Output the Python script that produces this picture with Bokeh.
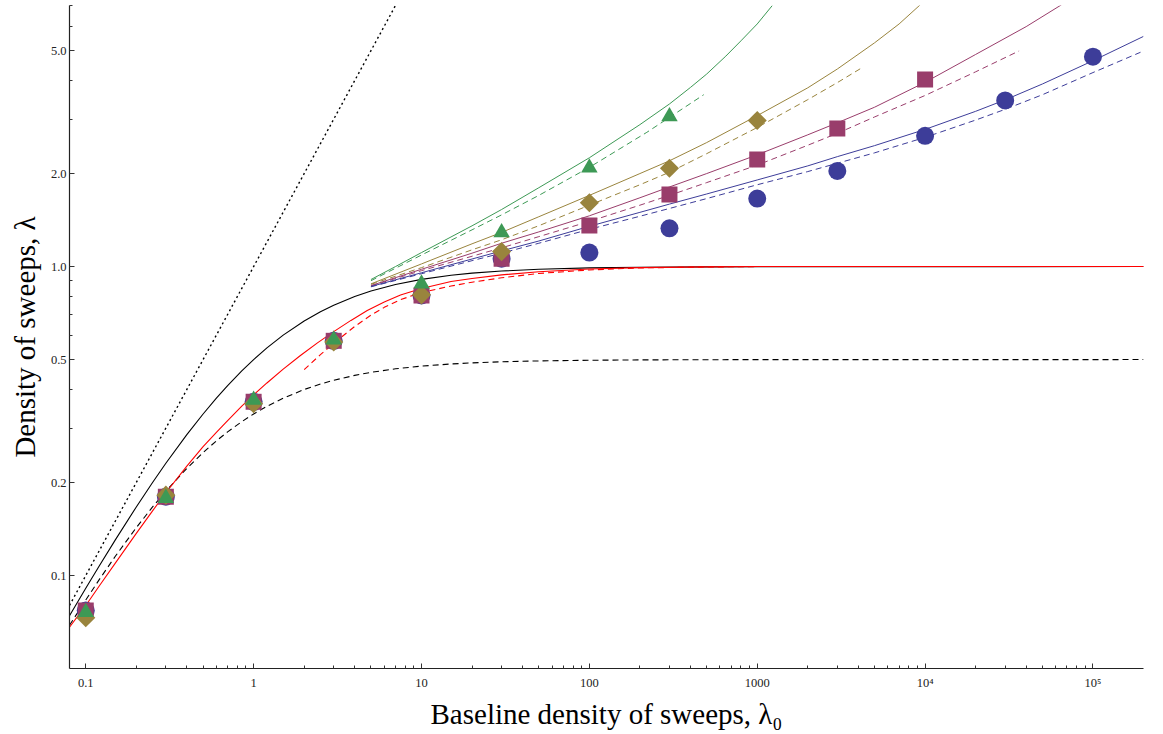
from bokeh.plotting import figure
from bokeh.models import FixedTicker, Range1d, PrintfTickFormatter
from bokeh.embed import file_html
from bokeh.resources import INLINE

# ---------------- data ----------------
# markers
x_circ = [0.1, 0.3, 1, 3, 10, 30, 100, 300, 1000, 3000, 1e4, 3e4, 1e5]
y_circ = [0.077, 0.18, 0.365, 0.575, 0.806, 1.06, 1.11, 1.33, 1.66, 2.04, 2.65, 3.45, 4.78]

x_sq = [0.1, 0.3, 1, 3, 10, 30, 100, 300, 1000, 3000, 1e4]
y_sq = [0.077, 0.18, 0.365, 0.575, 0.806, 1.06, 1.357, 1.71, 2.22, 2.80, 4.03]

x_dia = [0.1, 0.3, 1, 3, 10, 30, 100, 300, 1000]
y_dia = [0.073, 0.182, 0.36, 0.57, 0.81, 1.118, 1.61, 2.08, 2.97]

x_tri = [0.1, 0.3, 1, 3, 10, 30, 100, 300]
y_tri = [0.076, 0.178, 0.37, 0.58, 0.88, 1.29, 2.09, 3.06]

# black dotted line
x_dot = [0.08, 7.0]
y_dot = [0.08, 7.0]

# black solid curve
x_bs = [0.08, 0.1, 0.12, 0.15, 0.2, 0.25, 0.3, 0.4, 0.5, 0.6, 0.7, 0.85, 1, 1.2, 1.5, 2, 2.5,
        3, 4, 5, 7, 10, 15, 20, 30, 50, 100, 200, 500, 1000, 2e5]
y_bs = [0.0741, 0.0909, 0.1071, 0.1304, 0.1667, 0.2, 0.2308, 0.2857, 0.3333, 0.375, 0.4118,
        0.4595, 0.5, 0.5455, 0.6, 0.6667, 0.7143, 0.75, 0.8, 0.8333, 0.875, 0.9091, 0.9375,
        0.9524, 0.9677, 0.9804, 0.9901, 0.995, 0.998, 0.999, 1.0]

# black dashed curve
x_bd = [0.08, 0.1, 0.12, 0.15, 0.2, 0.25, 0.3, 0.4, 0.5, 0.6, 0.7, 0.85, 1, 1.2, 1.5, 2, 2.5,
        3, 4, 5, 7, 10, 15, 20, 30, 50, 100, 200, 500, 1000, 2e5]
y_bd = [0.069, 0.0833, 0.0968, 0.1154, 0.1429, 0.1667, 0.1875, 0.2222, 0.25, 0.2727, 0.2917,
        0.3148, 0.3333, 0.3529, 0.375, 0.4, 0.4167, 0.4286, 0.4444, 0.4545, 0.4667, 0.4762,
        0.4839, 0.4878, 0.4918, 0.495, 0.4975, 0.4988, 0.4995, 0.4998, 0.5]

# red solid curve
x_rs = [0.08, 0.1, 0.12, 0.15, 0.2, 0.25, 0.3, 0.4, 0.5, 0.6, 0.7, 0.85, 1, 1.2, 1.5, 1.9,
        2.4, 3, 3.8, 4.75, 6, 7.5, 10, 15, 20, 30, 50, 100, 200, 500, 1000, 2e5]
y_rs = [0.068, 0.08, 0.0923, 0.1097, 0.1369, 0.1619, 0.1853, 0.2261, 0.2612, 0.2906, 0.3172,
        0.3536, 0.3842, 0.42, 0.4658, 0.5156, 0.5664, 0.6159, 0.6695, 0.7203, 0.7684, 0.8087,
        0.8487, 0.8944, 0.915, 0.94, 0.962, 0.982, 0.992, 0.998, 1.0, 1.0]

# red dashed curve
x_rd = [2, 2.5, 3, 4, 5, 6, 7.5, 10, 15, 20, 30, 50, 100, 200, 500, 1000, 2e5]
y_rd = [0.464, 0.5188, 0.5647, 0.6399, 0.6962, 0.7379, 0.7813, 0.8246, 0.865, 0.89, 0.92,
        0.95, 0.975, 0.99, 0.997, 1.0, 1.0]

# green solid / dashed
x_gs = [5, 7, 10, 20, 30, 50, 100, 200, 300, 400, 500, 650, 800, 1000, 1230]
y_gs = [0.908, 1.0, 1.11, 1.355, 1.53, 1.8, 2.25, 2.88, 3.36, 3.8, 4.2, 4.8, 5.38, 6.1, 7.0]
x_gd = [5, 10, 20, 30, 50, 100, 220, 480]
y_gd = [0.9, 1.09, 1.315, 1.47, 1.70, 2.095, 2.72, 3.6]

# olive solid / dashed
x_os = [5, 10, 20, 30, 50, 100, 200, 300, 500, 1000, 2000, 3000, 5000, 7000, 9390]
y_os = [0.879, 1.02, 1.185, 1.29, 1.45, 1.70, 2.0, 2.2, 2.52, 3.08, 3.79, 4.36, 5.3, 6.1, 7.05]
x_od = [5, 10, 20, 30, 50, 100, 200, 300, 500, 1000, 2000, 3000, 4230]
y_od = [0.876, 0.992, 1.133, 1.221, 1.356, 1.58, 1.84, 2.02, 2.32, 2.82, 3.47, 3.94, 4.41]

# purple solid / dashed
x_ps = [5, 10, 20, 30, 50, 100, 200, 300, 500, 1000, 2000, 3000, 5000, 1e4, 2e4, 4e4, 65000]
y_ps = [0.868, 0.98, 1.105, 1.19, 1.295, 1.46, 1.67, 1.81, 2.0, 2.3, 2.67, 2.92, 3.28, 3.95,
        4.86, 5.98, 7.04]
x_pd = [5, 10, 20, 30, 50, 100, 200, 300, 500, 1000, 2000, 3000, 5000, 1e4, 2e4, 36300]
y_pd = [0.866, 0.97, 1.08, 1.15, 1.25, 1.40, 1.58, 1.70, 1.87, 2.13, 2.47, 2.7, 3.05, 3.58,
        4.27, 4.99]

# blue solid / dashed
x_bls = [5, 10, 20, 30, 50, 100, 200, 300, 500, 1000, 2000, 3000, 5000, 1e4, 2e4, 3e4, 5e4,
         1e5, 2e5]
y_bls = [0.862, 0.955, 1.058, 1.124, 1.21, 1.35, 1.498, 1.593, 1.718, 1.907, 2.118, 2.269,
         2.463, 2.78, 3.181, 3.465, 3.9, 4.638, 5.56]
x_bld = [5, 10, 20, 30, 50, 100, 200, 300, 500, 1000, 2000, 3000, 5000, 1e4, 2e4, 3e4, 5e4,
         1e5, 1.92e5]
y_bld = [0.86, 0.948, 1.045, 1.105, 1.19, 1.32, 1.455, 1.542, 1.66, 1.84, 2.03, 2.16, 2.334,
         2.62, 2.98, 3.229, 3.6, 4.246, 4.94]

# ticks
x_major = [0.1, 1, 10, 100, 1000, 1e4, 1e5]
x_labels = ["0.1", "1", "10", "100", "1000", "10⁴", "10⁵"]
y_major = [0.1, 0.2, 0.5, 1, 2, 5]
y_minor = [0.3, 0.4, 0.6, 0.7, 0.8, 0.9, 3, 4, 6, 7]

# ---------------- styling ----------------
BLUE = "#3D3D99"
PURPLE = "#993D6B"
OLIVE = "#99843D"
GREEN = "#3D9955"
FONT = "Liberation Serif"

p = figure(x_axis_type="log", y_axis_type="log",
           x_range=Range1d(0.08, 2.0e5), y_range=Range1d(0.05, 7.0),
           frame_width=1074, frame_height=663,
           min_border_left=69, min_border_right=12, min_border_top=5, min_border_bottom=60,
           output_backend="svg", toolbar_location=None)
p.outline_line_color = None
p.xgrid.visible = False
p.ygrid.visible = False
p.background_fill_color = "white"

# lines
p.line(x_dot, y_dot, color="black", line_width=1.4, line_dash="2 3")
p.line(x_bs, y_bs, color="black", line_width=1.1)
p.line(x_bd, y_bd, color="black", line_width=1.1, line_dash="6 4")
p.line(x_rs, y_rs, color="#FF0000", line_width=1.1)
p.line(x_rd, y_rd, color="#FF0000", line_width=1.1, line_dash="6 4")

for xs, ys, xd, yd, c in [(x_gs, y_gs, x_gd, y_gd, GREEN),
                          (x_os, y_os, x_od, y_od, OLIVE),
                          (x_ps, y_ps, x_pd, y_pd, PURPLE),
                          (x_bls, y_bls, x_bld, y_bld, BLUE)]:
    p.line(xs, ys, color=c, line_width=1.0)
    p.line(xd, yd, color=c, line_width=1.0, line_dash="6 4")

# markers
p.scatter(x_circ, y_circ, marker="circle", size=18, fill_color=BLUE, line_color=None)
p.scatter(x_sq, y_sq, marker="square", size=16, fill_color=PURPLE, line_color=None)
p.scatter(x_dia, y_dia, marker="square", size=13.5, angle=0.785398, fill_color=OLIVE, line_color=None)
p.scatter(x_tri, y_tri, marker="triangle", size=16.5, fill_color=GREEN, line_color=None)

# axes
xa = p.xaxis[0]
xa.ticker = FixedTicker(ticks=x_major,
                        minor_ticks=[m * d for d in [0.1, 1, 10, 100, 1000, 1e4] for m in range(2, 10)])
xa.major_label_overrides = {v: s for v, s in zip(x_major, x_labels)}
ya = p.yaxis[0]
ya.ticker = FixedTicker(ticks=y_major, minor_ticks=y_minor)
ya.formatter = PrintfTickFormatter(format="%.1f")

for ax in (xa, ya):
    ax.axis_line_color = "#222222"
    ax.axis_line_width = 1.2
    ax.major_tick_in = 5
    ax.major_tick_out = 0
    ax.minor_tick_in = 3
    ax.minor_tick_out = 0
    ax.major_tick_line_color = "#333333"
    ax.minor_tick_line_color = "#333333"
    ax.major_label_text_font = FONT
    ax.major_label_text_font_size = "12.5px"
    ax.major_label_text_color = "#222222"
    ax.axis_label_text_font = FONT
    ax.axis_label_text_font_size = "29px"
    ax.axis_label_text_font_style = "normal"
    ax.axis_label_text_color = "black"

xa.axis_label = "Baseline density of sweeps, λ₀"
xa.major_label_standoff = 7
xa.axis_label_standoff = 5
ya.axis_label = "Density of sweeps, λ"
ya.major_label_standoff = 3
ya.axis_label_standoff = 7

open("out.html", "w").write(file_html(p, INLINE))
